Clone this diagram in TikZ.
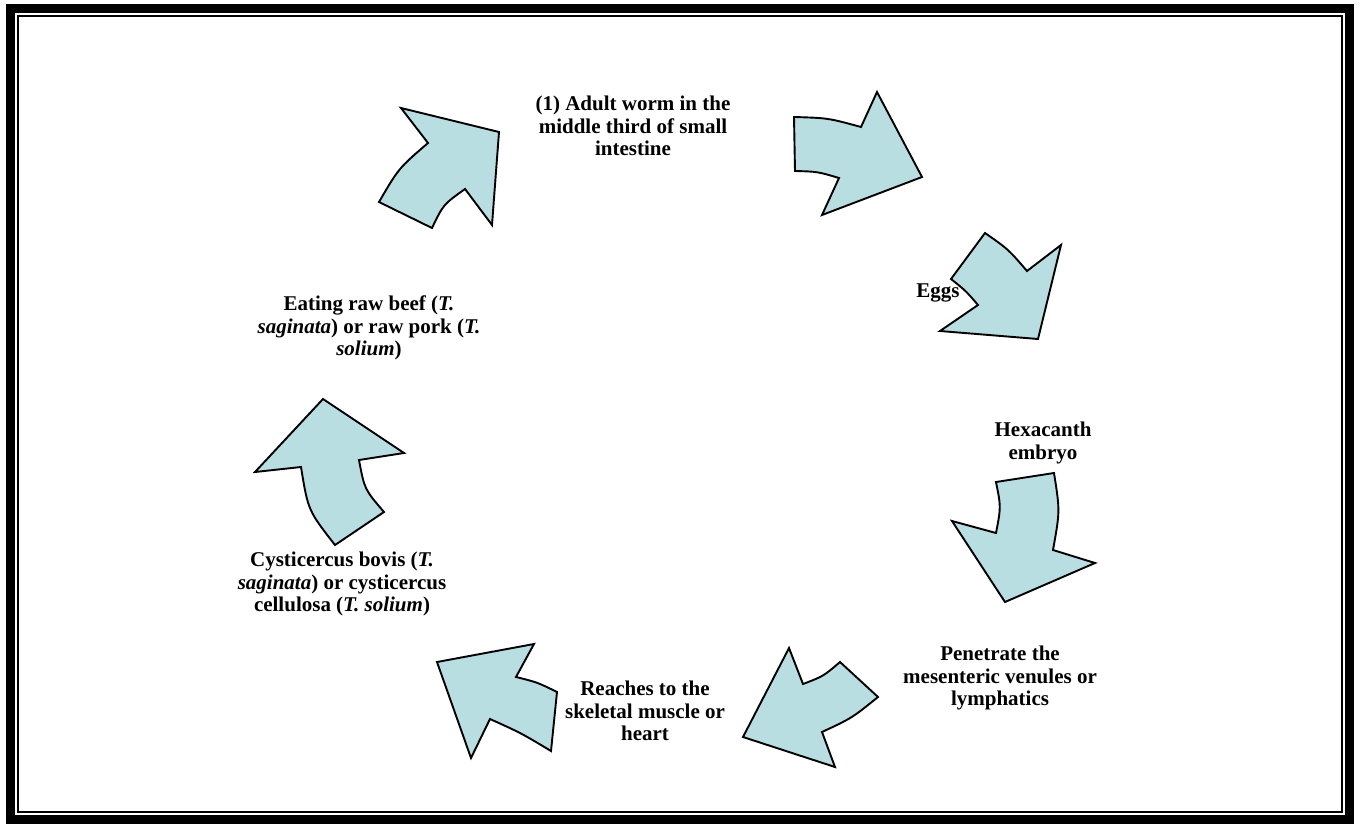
\documentclass[tikz,border=0pt]{standalone}
\usepackage{fontspec}
\setmainfont{Liberation Serif}
\usepackage{tikz}
\usetikzlibrary{positioning}
\definecolor{arrowfill}{RGB}{184,222,226}

\begin{document}
\begin{tikzpicture}[x=1pt, y=-1pt,
					arrowblk/.style={fill=arrowfill, draw=black, line width=1.9pt, line join=miter},
					lbl/.style={font=\fontsize{21}{22.5}\selectfont\bfseries, align=center, anchor=north, inner sep=0pt}]
					\useasboundingbox (0,0) rectangle (1360,828);
					\fill[white] (0,0) rectangle (1360,828);
					\draw[line width=9pt] (10.5,8.5) rectangle (1349.5,819.5);
					\draw[line width=1.5pt] (18,16) rectangle (1342,812);
					\node[lbl] (adult) at (633,95) {\strut(1) Adult worm in the\\ middle third of small\\ intestine};
					\node[lbl] (eggs) at (938,282) {\strut Eggs};
					\node[lbl] (hexa) at (1043,421) {\strut Hexacanth\\ embryo};
					\node[lbl] (penetrate) at (1000,645) {\strut Penetrate the\\ mesenteric venules or\\ lymphatics};
					\node[lbl] (reaches) at (645,680) {\strut Reaches to the\\ skeletal muscle or\\ heart};
					\node[lbl] (cyst) at (342,551) {\strut Cysticercus bovis (\textit{T.}\\ \textit{saginata}) or cysticercus\\ cellulosa (\textit{T. solium})};
					\node[lbl] (eating) at (369,295) {\strut Eating raw beef (\textit{T.}\\ \textit{saginata}) or raw pork (\textit{T.}\\ \textit{solium})};
					\draw[arrowblk] (794,117) .. controls (828,118) .. (861,127) -- (877,92) -- (922,177) -- (822,215) -- (839,178) .. controls (817.5,171.6) .. (795,171) -- cycle;
					\draw[arrowblk] (985,233) .. controls (1008,249) .. (1027,271) -- (1061,245) -- (1038,339) -- (940,331) -- (978,305) .. controls (966,291) .. (951,279) -- cycle;
					\draw[arrowblk] (996,482) -- (1054,473) .. controls (1060,511) .. (1053,550) -- (1095,563) -- (1005,602) -- (952,521) -- (996,533) .. controls (1001,507) .. (996,482) -- cycle;
					\draw[arrowblk] (840,662) -- (878,697) .. controls (852,718) .. (822,732) -- (835,767) -- (743,737) -- (789,648) -- (803,684) .. controls (823.4,676.2) .. (840,662) -- cycle;
					\draw[arrowblk] (534,644) -- (437,662) -- (471,758) -- (490,719) .. controls (521.4,733.2) .. (551,751) -- (557,692) .. controls (537.3,682.3) .. (516,677) -- cycle;
					\draw[arrowblk] (323,399) -- (404,453) -- (359,460) .. controls (364.5,489.3) .. (384,512) -- (335,545) .. controls (308.1,510.5) .. (301,467) -- (255,472) -- cycle;
					\draw[arrowblk] (401,108) -- (499,132) -- (492,225) -- (465,189) .. controls (443.3,204.5) .. (432,228) -- (379,202) .. controls (398.7,168.2) .. (428,143) -- cycle;
					\end{tikzpicture}
\end{document}
